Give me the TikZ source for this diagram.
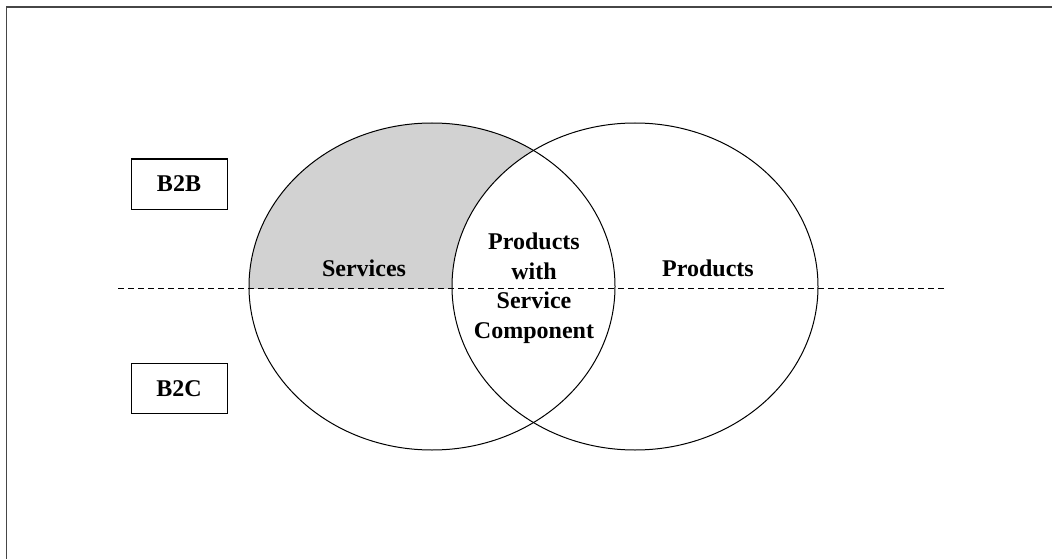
\documentclass[tikz,border=0pt]{standalone}
\usepackage{fontspec}
\setmainfont{Liberation Serif}
\usetikzlibrary{shapes.geometric}
\definecolor{regiongray}{RGB}{210,210,210}
\definecolor{framec}{RGB}{70,70,70}
\tikzset{
  lbl/.style={font=\fontsize{24}{29.5}\selectfont\bfseries, inner sep=0pt},
  tagbox/.style={draw=black, line width=1pt, minimum width=96pt, minimum height=50pt, inner sep=0pt, font=\fontsize{24}{29}\selectfont\bfseries},
  venn/.style={draw=black, line width=1pt, ellipse, minimum width=366pt, minimum height=327pt, inner sep=0pt},
  divider/.style={draw=black, line width=0.8pt, dash pattern=on 6pt off 4pt},
}
\begin{document}
\begin{tikzpicture}[x=1pt,y=-1pt]
\useasboundingbox (0,0) rectangle (1052,559);
% frame (only left and top edges visible)
\coordinate (fbl) at (6.5,562);
\coordinate (ftl) at (6.5,7);
\coordinate (ftr) at (1055,7);
\draw[framec, line width=1.5pt] (fbl) -- (ftl) -- (ftr);
% shaded region: left ellipse above divider, outside right ellipse
\begin{scope}
  \clip (0,0) rectangle (1052,288);
  \fill[regiongray] (432,286.5) ellipse [x radius=183pt, y radius=163.5pt];
  \fill[white] (635,286.5) ellipse [x radius=183pt, y radius=163.5pt];
\end{scope}
\node[venn] (L) at (432,286.5) {};
\node[venn] (R) at (635,286.5) {};
\coordinate (dl) at (118,288);
\coordinate (dr) at (947,288);
\draw[divider] (dl) -- (dr);
\node[tagbox] (b2b) at (179,184) {B2B};
\node[tagbox] (b2c) at (179,388.5) {B2C};
\node[lbl, anchor=base] (serv) at (364,276) {Services};
\node[lbl, anchor=base] (prod) at (708,276) {Products};
\node[lbl, align=center, anchor=north] (both) at (534,233) {Products\\with\\Service\\Component};
\end{tikzpicture}
\end{document}
